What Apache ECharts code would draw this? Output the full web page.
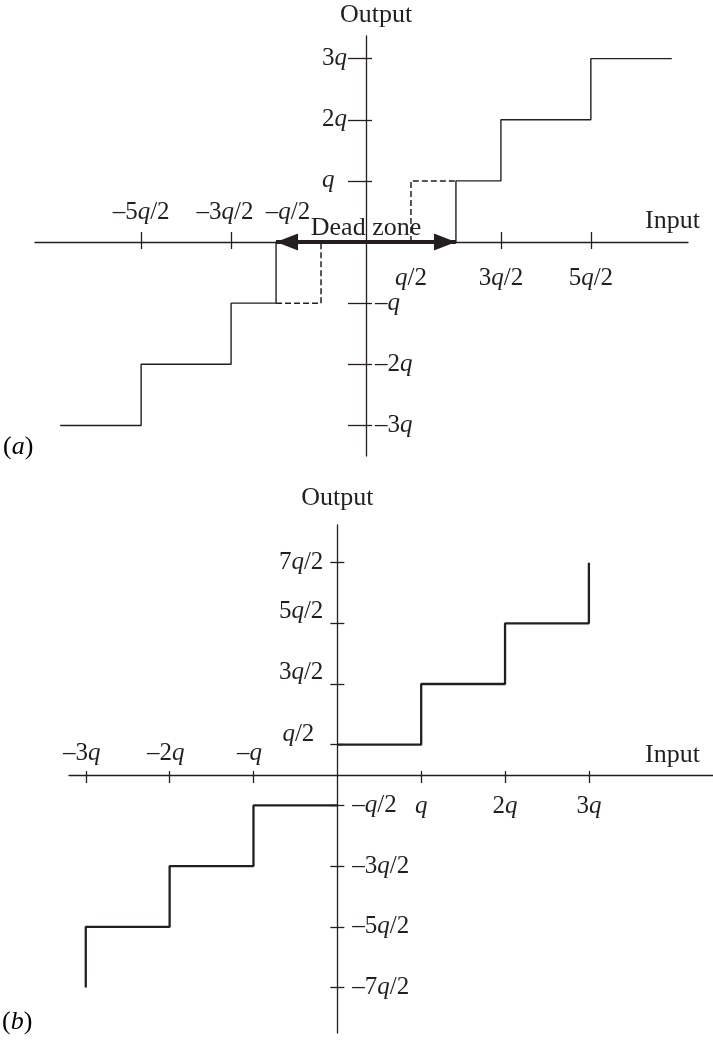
<!DOCTYPE html>
<html>
<head>
<meta charset="utf-8">
<title>Quantizer characteristics</title>
<style>
  html, body { margin: 0; padding: 0; background: #ffffff; }
  #chart { width: 713px; height: 1044px; }
</style>
<script src="https://cdn.jsdelivr.net/npm/echarts@6/dist/echarts.min.js"></script>
</head>
<body>
<div id="chart"></div>
<script>
// ---- (a) quantizer with a dead zone (values in units of q) ----
const deadZoneThresholds = [-2.5, -1.5, -1, 1, 1.5, 2.5];
const deadZoneLevels = [-3, -2, -1, 0, 1, 2, 3];
const deadZoneInputRange = [-3.4, 3.4];
const deadZoneEdges = [-1, 1];
// ordinary (no dead zone) steps near the origin, drawn dashed
const uniformStepsNearZero = [-0.5, 0.5];
const xTicksA = [-2.5, -1.5, 1.5, 2.5];
const xLabelsAAbove = [-2.5, -1.5, -0.5];
const xLabelsABelow = [0.5, 1.5, 2.5];
const yTicksA = [-3, -2, -1, 1, 2, 3];
const yLabelsALeft = [1, 2, 3];
const yLabelsARight = [-1, -2, -3];

// ---- (b) mid-rise quantizer (values in units of q) ----
const midriseThresholds = [-3, -2, -1, 0, 1, 2, 3];
const midriseLevels = [-3.5, -2.5, -1.5, -0.5, 0.5, 1.5, 2.5, 3.5];
const xTicksB = [-3, -2, -1, 1, 2, 3];
const xLabelsBAbove = [-3, -2, -1];
const xLabelsBBelow = [1, 2, 3];
const yTicksB = [-3.5, -2.5, -1.5, -0.5, 0.5, 1.5, 2.5, 3.5];
const yLabelsBLeft = [0.5, 1.5, 2.5, 3.5];
const yLabelsBRight = [-0.5, -1.5, -2.5, -3.5];

const INK = '#231f20';
const SERIF = "'Liberation Serif', 'Times New Roman', serif";
const TICK_FONT = 25;
const NAME_FONT = 26;

function richSet(size) {
  const base = { fontFamily: SERIF, fontSize: size, color: INK };
  return { r: base, i: Object.assign({}, base, { fontStyle: 'italic' }) };
}
const RICH = richSet(TICK_FONT);

// value in q units -> "–5q/2", "2q", "q", ...
function qLabel(v) {
  const n = Math.round(v * 2);
  const sign = n < 0 ? '\u2013' : '';
  const a = Math.abs(n);
  const coef = a % 2 === 0 ? a / 2 : a;
  const frac = a % 2 === 0 ? '' : '/2';
  const lead = sign + (coef === 1 ? '' : String(coef));
  let s = lead ? '{r|' + lead + '}' : '';
  s += '{i|q}';
  if (frac) s += '{r|' + frac + '}';
  return s;
}

// step-function point lists (used with step: 'end')
function stepPoints(thresholds, levels, range) {
  const pts = [[range ? range[0] : thresholds[0], levels[0]]];
  thresholds.forEach((t, k) => pts.push([t, levels[k + 1]]));
  if (range) pts.push([range[1], levels[levels.length - 1]]);
  return pts;
}
const solidA = stepPoints(deadZoneThresholds, deadZoneLevels, deadZoneInputRange);
const dashedLeft = [[deadZoneEdges[0], -1], [uniformStepsNearZero[0], 0]];
const dashedRight = [[uniformStepsNearZero[1], 0], [deadZoneEdges[1], 1]];

// mid-rise curve split at the origin so the jump there is left to the axis line
const zeroIdx = midriseThresholds.indexOf(0);
const solidB = stepPoints(midriseThresholds, midriseLevels, null);
const solidBNeg = solidB.slice(0, zeroIdx + 1).concat([[0, midriseLevels[zeroIdx]]]);
const solidBPos = solidB.slice(zeroIdx + 1);

const axisLineStyle = { color: INK, width: 1.3 };
const tickLine = { color: INK, width: 1.3 };

function xPair(grid, min, max, ticks, opt) {
  return [
    {
      gridIndex: grid, type: 'value', min: min, max: max, position: 'bottom',
      axisLine: { show: true, onZero: true, onZeroAxisIndex: grid * 2, lineStyle: axisLineStyle },
      axisTick: { show: true, customValues: ticks, length: opt.tickDown, lineStyle: tickLine },
      axisLabel: { show: false },
      splitLine: { show: false },
      name: 'Input', nameLocation: 'end', nameGap: opt.nameGap,
      nameTextStyle: { fontFamily: SERIF, fontSize: NAME_FONT, color: INK, align: 'right', verticalAlign: 'bottom', padding: [0, 0, opt.namePad, 0] }
    },
    {
      gridIndex: grid, type: 'value', min: min, max: max, position: 'top',
      axisLine: { show: false, onZero: true, onZeroAxisIndex: grid * 2 + 1 },
      axisTick: { show: true, customValues: ticks, length: opt.tickUp, lineStyle: tickLine },
      axisLabel: { show: false },
      splitLine: { show: false }
    }
  ];
}

function yPair(grid, min, max, ticks, opt) {
  return [
    {
      gridIndex: grid, type: 'value', min: min, max: max, position: 'left',
      axisLine: { show: true, onZero: true, onZeroAxisIndex: grid * 2, lineStyle: axisLineStyle },
      axisTick: { show: true, customValues: ticks, length: opt.tickLeft, lineStyle: tickLine },
      axisLabel: { show: false },
      splitLine: { show: false },
      name: 'Output', nameLocation: 'end', nameGap: opt.nameGap,
      nameTextStyle: { fontFamily: SERIF, fontSize: NAME_FONT, color: INK, padding: [0, 0, 0, opt.nameShift] }
    },
    {
      gridIndex: grid, type: 'value', min: min, max: max, position: 'right',
      axisLine: { show: false, onZero: true, onZeroAxisIndex: grid * 2 + 1 },
      axisTick: { show: true, customValues: ticks, length: opt.tickRight, lineStyle: tickLine },
      axisLabel: { show: false },
      splitLine: { show: false }
    }
  ];
}

// tick labels, placed at their values on the zero lines of each panel
function labelSeries(axisIdx, values, horizontal, position, distance, offsetFor, align) {
  const label = {
    show: true, position: position, distance: distance, color: INK, opacity: 1,
    formatter: p => qLabel(horizontal ? p.value[0] : p.value[1]),
    rich: RICH
  };
  if (align) label.align = align;
  return {
    type: 'scatter', xAxisIndex: axisIdx, yAxisIndex: axisIdx,
    symbol: 'circle', symbolSize: 0, silent: true, z: 5,
    itemStyle: { opacity: 1, color: INK },
    data: values.map(v => ({
      value: horizontal ? [v, 0] : [0, v],
      label: { offset: offsetFor ? offsetFor(v) : [0, 0] }
    })),
    label: label,
    emphasis: { disabled: true }
  };
}

const chart = echarts.init(document.getElementById('chart'), null, { renderer: 'canvas' });

const option = {
  animation: false,
  backgroundColor: '#ffffff',
  grid: [
    { left: 35, top: 36, width: 653, height: 420, outerBoundsMode: 'none', containLabel: false },
    { left: 69, top: 525, width: 644, height: 508, outerBoundsMode: 'none', containLabel: false }
  ],
  xAxis: [].concat(
    xPair(0, -3.68, 3.58, xTicksA, { tickDown: 7, tickUp: 10, nameGap: 12, namePad: 8 }),
    xPair(1, -3.2, 4.48, xTicksB, { tickDown: 8, tickUp: 4, nameGap: -13, namePad: 7 })
  ),
  yAxis: [].concat(
    yPair(0, -3.5, 3.37, yTicksA, { tickLeft: 18, tickRight: 6, nameGap: 8, nameShift: 20 }),
    yPair(1, -4.25, 4.12, yTicksB, { tickLeft: 7, tickRight: 7, nameGap: 14, nameShift: 0 })
  ),
  graphic: [
    { type: 'text', left: 3, top: 434, style: { text: '{r|(}{i|a}{r|)}', rich: richSet(NAME_FONT) } },
    { type: 'text', left: 2, top: 1009, style: { text: '{r|(}{i|b}{r|)}', rich: richSet(NAME_FONT) } }
  ],
  series: [
    {
      name: 'dead-zone quantizer', type: 'line', xAxisIndex: 0, yAxisIndex: 0,
      data: solidA, step: 'end', symbol: 'none', silent: true,
      lineStyle: { color: INK, width: 1.4 },
      markLine: {
        silent: true, animation: false,
        symbol: ['triangle', 'triangle'], symbolSize: [17, 22],
        symbolOffset: [[0, '50%'], [0, '50%']],
        lineStyle: { color: INK, width: 4, type: 'solid' },
        itemStyle: { color: INK },
        label: {
          show: true, position: 'insideMiddleTop', distance: 1, formatter: 'Dead zone',
          fontFamily: SERIF, fontSize: NAME_FONT, color: INK
        },
        emphasis: { disabled: true },
        data: [[{ coord: [deadZoneEdges[0], 0] }, { coord: [deadZoneEdges[1], 0] }]]
      }
    },
    {
      name: 'uniform step (left)', type: 'line', xAxisIndex: 0, yAxisIndex: 0,
      data: dashedLeft, step: 'end', symbol: 'none', silent: true,
      lineStyle: { color: INK, width: 1.5, type: [6, 3] }
    },
    {
      name: 'uniform step (right)', type: 'line', xAxisIndex: 0, yAxisIndex: 0,
      data: dashedRight, step: 'start', symbol: 'none', silent: true,
      lineStyle: { color: INK, width: 1.5, type: [6, 3] }
    },
    {
      name: 'mid-rise quantizer (x<0)', type: 'line', xAxisIndex: 2, yAxisIndex: 2,
      data: solidBNeg, step: 'end', symbol: 'none', silent: true,
      lineStyle: { color: INK, width: 2.3 }
    },
    {
      name: 'mid-rise quantizer (x>0)', type: 'line', xAxisIndex: 2, yAxisIndex: 2,
      data: solidBPos, step: 'end', symbol: 'none', silent: true,
      lineStyle: { color: INK, width: 2.3 }
    },
    labelSeries(0, xLabelsAAbove, true, 'top', 17,
      v => v > -1 ? [-33, 0] : (v > -2 ? [-6, 0] : [0, 0])),
    labelSeries(0, xLabelsABelow, true, 'bottom', 24),
    labelSeries(0, yLabelsALeft, false, 'left', 44, null, 'left'),
    labelSeries(0, yLabelsARight, false, 'right', 9),
    labelSeries(2, xLabelsBAbove, true, 'top', 9, v => [-4, 0]),
    labelSeries(2, xLabelsBBelow, true, 'bottom', 19),
    labelSeries(2, yLabelsBLeft, false, 'left', 14,
      v => v > 3 ? [0, 0] : (v < 1 ? [-9, -10] : [0, -12])),
    labelSeries(2, yLabelsBRight, false, 'right', 15)
  ]
};

chart.setOption(option);
</script>
</body>
</html>
